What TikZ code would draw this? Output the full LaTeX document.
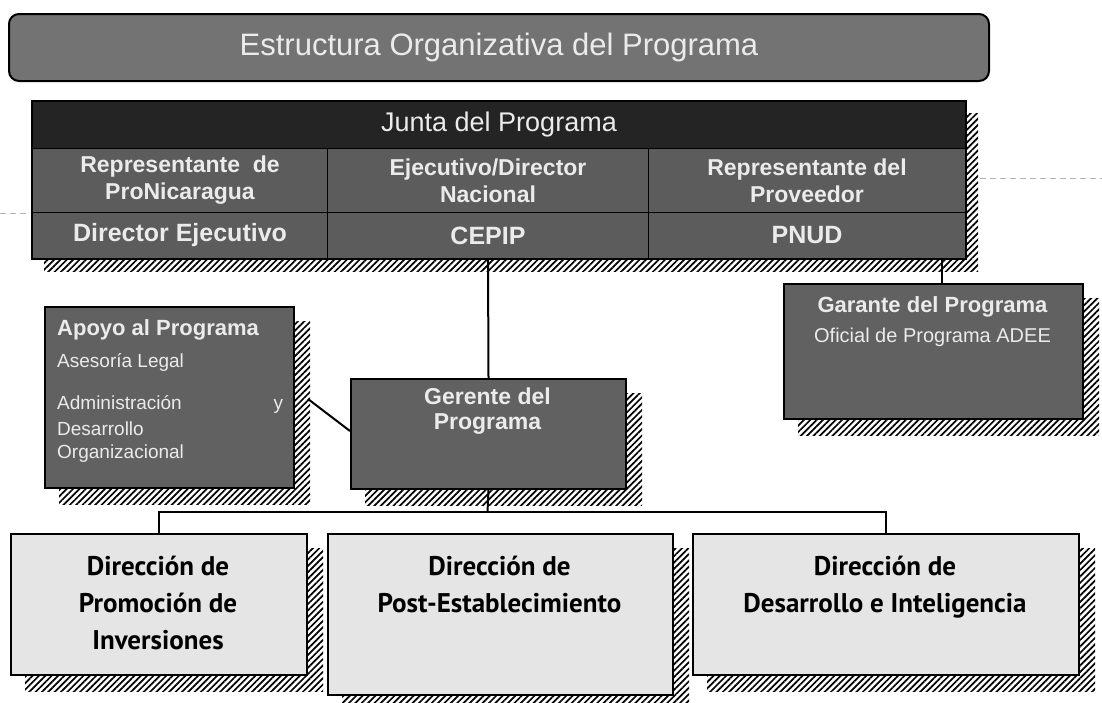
\documentclass[tikz,border=0pt]{standalone}
\usepackage{fontspec}
\setmainfont{Liberation Sans}
\newfontfamily\dirfont{PT Sans}
\usetikzlibrary{patterns.meta,backgrounds}
\tikzset{
  hatch/.style={pattern={Lines[angle=45,distance=4.5pt,line width=1.7pt]},pattern color=black},
  box/.style={draw=black,line width=2pt,anchor=north west,inner sep=0pt},
  darkbox/.style={box,fill=black!62},
  lightbox/.style={box,fill=black!10},
  cell/.style={draw=black,line width=1pt,anchor=north west,inner sep=0pt,fill=black!64,
    text=black!8,align=center},
  rowA/.style={cell,font=\bfseries\fontsize{23}{27}\selectfont},
  rowB/.style={cell,font=\bfseries\fontsize{25}{27}\selectfont},
  lbl/.style={text=black!8,inner sep=0pt,align=center},
  dirlbl/.style={inner sep=0pt,align=center,font=\dirfont\bfseries\fontsize{27}{37}\selectfont},
  conn/.style={draw=black,line width=2pt},
  artifact/.style={draw=black!30,line width=0.6pt,dash pattern=on 6pt off 4pt}
}
\begin{document}
\begin{tikzpicture}[x=1pt,y=-1pt]
\useasboundingbox (0,0) rectangle (1102,702);
% title
\node[box,fill=black!55,rounded corners=10pt,minimum width=980,minimum height=67,
  text=black!8,font=\fontsize{31}{32}\selectfont] (title) at (8,13) {Estructura Organizativa del Programa};
% board table
\node[cell,fill=black!86,minimum width=933,minimum height=47,font=\fontsize{27}{28}\selectfont] (junta) at (32,101) {Junta del Programa};
\node[rowA,minimum width=295,minimum height=64] (c11) at (32,148) {Representante\ \ de\\ProNicaragua};
\node[rowA,minimum width=321,minimum height=64] (c12) at (327,148) {Ejecutivo/Director\\Nacional};
\node[rowA,minimum width=317,minimum height=64] (c13) at (648,148) {Representante del\\Proveedor};
\node[rowB,minimum width=295,minimum height=46] (c21) at (32,212) {Director Ejecutivo};
\node[rowB,minimum width=321,minimum height=46] (c22) at (327,212) {CEPIP};
\node[rowB,minimum width=317,minimum height=46] (c23) at (648,212) {PNUD};
\draw[line width=2pt] (junta.north west) rectangle (c23.south east);
% side boxes
\node[darkbox,minimum width=249,minimum height=181] (apoyo) at (44,306) {};
\node[lbl,anchor=west,font=\bfseries\fontsize{22}{24}\selectfont] (apoyoT) at (57,330) {Apoyo al Programa};
\node[lbl,anchor=west,font=\fontsize{19}{20}\selectfont] (apoyo1) at (57,362) {Asesoría Legal};
\node[lbl,anchor=west,font=\fontsize{19}{20}\selectfont] (apoyo2) at (57,404) {\makebox[226pt][s]{Administración\hfill y}};
\node[lbl,anchor=west,font=\fontsize{19}{20}\selectfont] (apoyo3) at (57,429) {Desarrollo};
\node[lbl,anchor=west,font=\fontsize{19}{20}\selectfont] (apoyo4) at (57,454) {Organizacional};
\node[darkbox,minimum width=275,minimum height=110] (gerente) at (350,378) {};
\node[lbl,font=\bfseries\fontsize{23}{25}\selectfont] (gerenteT) at (487.5,411) {Gerente del\\Programa};
\node[darkbox,minimum width=299,minimum height=135] (garante) at (783,283) {};
\node[lbl,font=\bfseries\fontsize{22}{24}\selectfont] (garanteT) at (932.5,307) {Garante del Programa};
\node[lbl,font=\fontsize{20}{22}\selectfont] (garante1) at (932.5,337) {Oficial de Programa ADEE};
% directions
\node[lightbox,minimum width=296,minimum height=141] (d1) at (10,533) {};
\node[lightbox,minimum width=345,minimum height=161] (d2) at (327,533) {};
\node[lightbox,minimum width=386,minimum height=141] (d3) at (692,533) {};
\node[dirlbl,anchor=north] (d1T) at (158,556) {Dirección de\\Promoción de\\Inversiones};
\node[dirlbl,anchor=north] (d2T) at (499.5,556) {Dirección de\\Post-Establecimiento};
\node[dirlbl,anchor=north] (d3T) at (885,556) {Dirección de\\Desarrollo e Inteligencia};
% shadows
\begin{scope}[on background layer]
  \fill[hatch] ([xshift=12pt,yshift=-12pt]junta.north west) rectangle ([xshift=12pt,yshift=-12pt]c23.south east);
  \foreach \n in {apoyo,gerente,garante,d1,d2,d3}
    \fill[hatch] ([xshift=15pt,yshift=-15pt]\n.north west) rectangle ([xshift=15pt,yshift=-15pt]\n.south east);
  \draw[artifact] (0,213) -- (30,213);
  \draw[artifact] (980,178) -- (1102,178);
\end{scope}
% connectors
\coordinate (gTop) at (942,258);
\coordinate (bus) at (487.5,512);
\coordinate (dA) at (308,399);
\coordinate (dB) at (350,431);
\draw[conn] (c22.south) -- (gerente.north);
\draw[conn] (gTop) -- (gTop |- garante.north);
\draw[conn] (dA) -- (dB);
\draw[conn] (gerente.south) -- (bus);
\draw[conn] (d1.north) |- (bus) -| (d3.north);
\end{tikzpicture}
\end{document}
